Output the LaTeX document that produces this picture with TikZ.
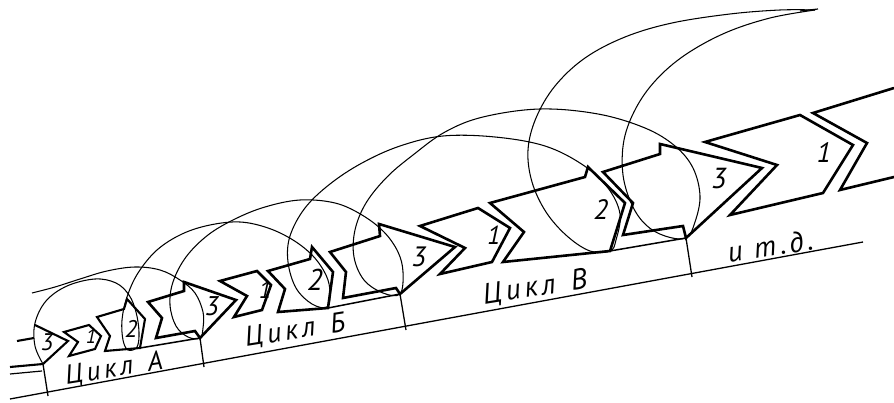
\documentclass[tikz,border=0pt]{standalone}
\usepackage{fontspec}
\setmainfont{PT Sans}
\newfontfamily\lblfont[LetterSpace=14]{PT Sans}
\newcommand{\fsz}[1]{\fontsize{#1}{#1}\selectfont}
\begin{document}
\begin{tikzpicture}[x=1pt,y=-1pt,
  chev/.style={line width=2.6pt, line join=miter, miter limit=6},
  chevs/.style={line width=2.1pt, line join=miter, miter limit=6},
  helix/.style={line width=1.05pt},
  baseln/.style={line width=1.3pt},
  botln/.style={line width=1.5pt},
  num/.style={font=\itshape, inner sep=0pt},
  lab/.style={font=\lblfont\itshape, inner sep=0pt, rotate=9}]
\useasboundingbox (0,0) rectangle (894,403);

% ---- baseline and ticks
\coordinate (bl0) at (10,399);
\coordinate (bl1) at (863,242);
\draw[baseln] (bl0) -- (bl1);
\coordinate (hA) at (43,364);
\coordinate (hB) at (200,338);
\coordinate (hV) at (400,294);
\coordinate (hD) at (686,238);
\coordinate (tA) at (48,396);
\coordinate (tB) at (204,367);
\coordinate (tV) at (406,330);
\coordinate (tD) at (692,277);
\draw[baseln] (hA) -- (tA);
\draw[baseln] (hB) -- (tB);
\draw[baseln] (hV) -- (tV);
\draw[baseln] (hD) -- (tD);

% ---- cycle A
\draw[chevs] (17,341) -- (34,338);
\draw[chevs] (10,367) -- (43,364);
\draw[line width=1.2pt] (10,374) -- (42,371);
\draw[chevs] (35,325) -- (68,341) -- (hA);
\draw[chevs] (64,332) -- (89,325) -- (101,336) -- (95,349) -- (69,356) -- (78,342) -- cycle;
\draw[chevs] (97,317) -- (124,309) -- (127,299) -- (145,319) -- (140,348) -- (105,351) -- (110,336) -- cycle;
\draw[botln] (140,348) -- (hB);

% ---- cycle B
\draw[chev] (hB) -- (195,331) -- (156,338) -- (162,318) -- (148,302) -- (184,291) -- (184,282) -- (236,300) -- cycle;
\draw[chev] (220,281) -- (257,271) -- (271,285) -- (262,310) -- (234,317) -- (247,296) -- cycle;
\draw[chev] (268,271) -- (310,259) -- (312,247) -- (333,272) -- (328,308) -- (278,312) -- (285,289) -- cycle;
\draw[botln] (328,308) -- (hV);

% ---- cycle V
\draw[chev] (hV) -- (396,288) -- (343,298) -- (346,272) -- (330,252) -- (380,236) -- (379,224) -- (455,247) -- cycle;
\draw[chev] (420,226) -- (478,208) -- (510,228) -- (492,262) -- (440,274) -- (465,248) -- cycle;
\draw[chev] (490,203) -- (585,177) -- (588,167) -- (625,203) -- (610,251) -- (503,262) -- (524,232) -- cycle;
\draw[botln] (610,251) -- (hD);

% ---- next cycle
\draw[chev] (hD) -- (683,226) -- (623,235) -- (633,203) -- (603,172) -- (660,154) -- (660,144) -- (762,168) -- cycle;
\draw[chev] (705,142) -- (800,115) -- (853,145) -- (823,193) -- (730,215) -- (777,165) -- cycle;
\draw[chev] (894,88) -- (813,113) -- (867,143) -- (840,190) -- (894,177);

% ---- helix 1
\draw[helix] plot[smooth, tension=0.6] coordinates {
 (32,293) (55,287) (80,279) (107,271) (135,267) (160,270) (180,280) (195,293)
 (203,312) (203,328) (200,338) (188,337) (176,326) (170,305) (173,282) (186,257)
 (208,235) (235,219) (265,207) (300,200) (335,203) (362,215) (384,232) (398,252)
 (403,272) (400,294) (383,293) (364,280) (354,257) (355,230) (366,203) (387,177)
 (413,155) (445,132) (483,117) (540,109) (598,114) (645,128) (675,146) (693,168)
 (700,196) (695,222) (686,238) (665,236) (646,225) (632,205) (623,175) (624,140)
 (636,108) (656,80) (685,55) (725,33) (770,18) (815,10)};

% ---- helix 2
\draw[helix] plot[smooth, tension=0.6] coordinates {
 (43,364) (35,346) (35,323) (46,301) (67,286) (95,279) (116,283) (129,295)
 (136,312) (139,332) (137,347) (128,350) (123,340) (122,320) (127,297) (138,273)
 (157,250) (182,234) (210,225) (240,222) (268,228) (293,240) (313,256) (326,275)
 (330,292) (327,307) (312,304) (296,288) (288,262) (290,236) (305,208) (330,184)
 (362,163) (400,146) (443,136) (495,137) (545,146) (583,165) (608,188) (620,214)
 (616,240) (610,251) (590,251) (567,236) (546,212) (532,182) (528,150) (536,118)
 (555,86) (585,58) (625,37) (672,23) (730,14) (780,10) (815,10)};
\draw[line width=1.2pt] (800,11) -- (818,9);

% ---- numbers
\node[num] (nA3) at (47,342) {\fsz{24}3};
\node[num] (nA1) at (91,336) {\fsz{20}1};
\node[num] (nA2) at (131,329) {\fsz{24}2};
\node[num] (nB3) at (212,306) {\fsz{27}3};
\node[num] (nB1) at (265,290) {\fsz{24}1};
\node[num] (nB2) at (315,280) {\fsz{30}2};
\node[num] (nV3) at (419,257) {\fsz{28}3};
\node[num] (nV1) at (494,235) {\fsz{26}1};
\node[num] (nV2) at (601,210) {\fsz{28}2};
\node[num] (nD3) at (719,179) {\fsz{29}3};
\node[num] (nD1) at (824,153) {\fsz{28}1};

% ---- cycle labels
\node[lab] (lA) at (114,369) {\fsz{27}Цикл\hspace{4pt} А};
\node[lab] (lB) at (295,331) {\fsz{28}Цикл\hspace{4pt} Б};
\node[lab] (lV) at (535,288) {\fsz{29}Цикл\hspace{4pt} В};
\node[lab] (lD) at (770,246) {\fsz{29}и т.д.};
\end{tikzpicture}
\end{document}
